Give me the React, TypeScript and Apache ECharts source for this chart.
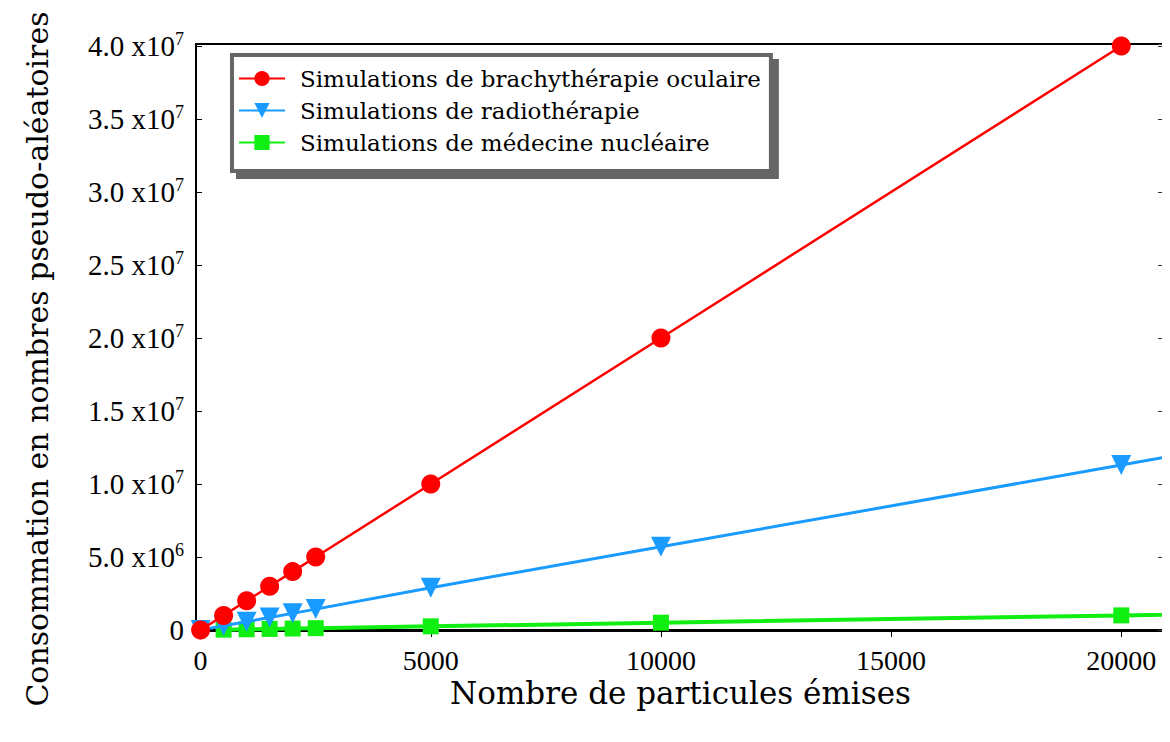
import React, { useEffect, useRef } from "react";
import * as echarts from "echarts";

const particles = [0, 500, 1000, 1500, 2000, 2500, 5000, 10000, 20000, 50000];
const brachyValues = [0, 1.0e6, 2.0e6, 3.0e6, 4.0e6, 5.0e6, 1.0e7, 2.0e7, 4.0e7, 1.0e8];
const radioValues = [0, 2.85e5, 5.7e5, 8.6e5, 1.14e6, 1.43e6, 2.9e6, 5.7e6, 1.13e7, 2.83e7];
const nucleaireValues = [null, 2.5e4, 5.0e4, 7.5e4, 1.0e5, 1.25e5, 2.5e5, 5.0e5, 1.0e6, 2.5e6];
const refParticles = [0, 20000];
const refValues = [0, 4.0e7];

const seriesNames = [
  "Simulations de brachythérapie oculaire",
  "Simulations de radiothérapie",
  "Simulations de médecine nucléaire",
];
const xTickStep = 5000;
const yTickStep = 5e6;
const xTitle = "Nombre de particules émises";
const yTitle = "Consommation en nombres pseudo-aléatoires";

const pairs = (xs: number[], ys: (number | null)[]) =>
  xs.map((x, i) => [x, ys[i]]).filter((p) => p[1] !== null);

const SERIF = "'DejaVu Serif', serif";
const TICKFONT = "'Liberation Serif', serif";

export default function App() {
  const ref = useRef<HTMLDivElement>(null);
  useEffect(() => {
    if (!ref.current) return;
    const chart = echarts.init(ref.current, undefined, { renderer: "svg" });
    const yFormatter = (v: number) => {
      if (Math.abs(v % yTickStep) > 1e-6) return "";
      if (v === 0) return "{m|0}";
      const e = Math.floor(Math.log10(v) + 1e-9);
      const m = (v / Math.pow(10, e)).toFixed(1);
      return `{m|${m} x10}{e|${e}}`;
    };
    chart.setOption({
      animation: false,
      backgroundColor: "#ffffff",
      grid: { left: 196, right: 5, top: 44, bottom: 112, containLabel: false },
      legend: {
        data: seriesNames,
        orient: "vertical",
        left: 232,
        top: 55,
        itemWidth: 46,
        itemHeight: 19,
        itemGap: 9,
        padding: [12, 10, 17, 6],
        backgroundColor: "#ffffff",
        borderColor: "#666666",
        borderWidth: 4,
        borderRadius: 0,
        shadowColor: "#666666",
        shadowBlur: 0,
        shadowOffsetX: 6,
        shadowOffsetY: 6,
        textStyle: {
          fontFamily: SERIF,
          fontSize: 23,
          color: "#000",
          padding: [0, 0, 0, 10],
        },
      },
      xAxis: [
        {
          type: "value",
          min: -100,
          max: 20950,
          splitNumber: 5,
          position: "bottom",
          axisLine: { show: true, onZero: false, lineStyle: { color: "#000", width: 3 } },
          axisTick: { show: true, inside: false, length: 7, lineStyle: { color: "#000", width: 1 } },
          axisLabel: {
            margin: 16,
            fontFamily: TICKFONT,
            fontSize: 28,
            color: "#000",
            formatter: (v: number) => (v % xTickStep === 0 && v >= 0 ? String(v) : ""),
          },
          splitLine: { show: false },
          name: xTitle,
          nameLocation: "middle",
          nameGap: 47,
          nameMoveOverlap: false,
          nameTextStyle: { fontFamily: SERIF, fontSize: 31, color: "#000" },
        },
        {
          type: "value",
          min: -100,
          max: 20950,
          position: "top",
          axisLine: { show: true, onZero: false, lineStyle: { color: "#000", width: 2 } },
          axisTick: { show: false },
          axisLabel: { show: false },
          splitLine: { show: false },
        },
      ],
      yAxis: [
        {
          type: "value",
          min: 0,
          max: 4.014e7,
          interval: yTickStep,
          position: "left",
          axisLine: { show: true, onZero: false, lineStyle: { color: "#000", width: 2 } },
          axisTick: { show: true, inside: true, length: 6, lineStyle: { color: "#000", width: 1 } },
          axisLabel: {
            margin: 12,
            color: "#000",
            formatter: yFormatter,
            rich: {
              m: { fontFamily: TICKFONT, fontSize: 29, color: "#000", lineHeight: 32 },
              e: { fontFamily: TICKFONT, fontSize: 18, color: "#000", verticalAlign: "top", lineHeight: 19 },
            },
          },
          splitLine: { show: false },
          name: yTitle,
          nameLocation: "middle",
          nameGap: 144,
          nameMoveOverlap: false,
          nameTextStyle: { fontFamily: SERIF, fontSize: 30, color: "#000", padding: [0, 44, 0, 0] },
        },
        {
          type: "value",
          min: 0,
          max: 4.014e7,
          interval: yTickStep,
          position: "right",
          axisLine: { show: true, onZero: false, lineStyle: { color: "#000", width: 2 } },
          axisTick: { show: true, inside: true, length: 7, lineStyle: { color: "#333", width: 1 } },
          axisLabel: { show: false },
          splitLine: { show: false },
        },
      ],
      series: [
        {
          name: "ref",
          type: "line",
          data: pairs(refParticles, refValues),
          symbol: "diamond",
          symbolSize: 18,
          itemStyle: { color: "#000" },
          lineStyle: { color: "#000", width: 1, type: "dashed" },
          z: 1,
        },
        {
          name: seriesNames[0],
          type: "line",
          data: pairs(particles, brachyValues),
          symbol: "circle",
          symbolSize: 19,
          itemStyle: { color: "#ff0000" },
          lineStyle: { color: "#ff0000", width: 2.5 },
          z: 4,
        },
        {
          name: seriesNames[1],
          type: "line",
          data: pairs(particles, radioValues),
          symbol: "triangle",
          symbolRotate: 180,
          symbolSize: 20,
          itemStyle: { color: "#1a9bff" },
          lineStyle: { color: "#1a9bff", width: 3 },
          z: 3,
        },
        {
          name: seriesNames[2],
          type: "line",
          data: pairs(particles, nucleaireValues),
          symbol: "rect",
          symbolSize: 16,
          itemStyle: { color: "#11ee11" },
          lineStyle: { color: "#11ee11", width: 4 },
          z: 2,
        },
      ],
    });
    return () => chart.dispose();
  }, []);
  return <div ref={ref} style={{ width: 1170, height: 742, margin: -8 }} />;
}
